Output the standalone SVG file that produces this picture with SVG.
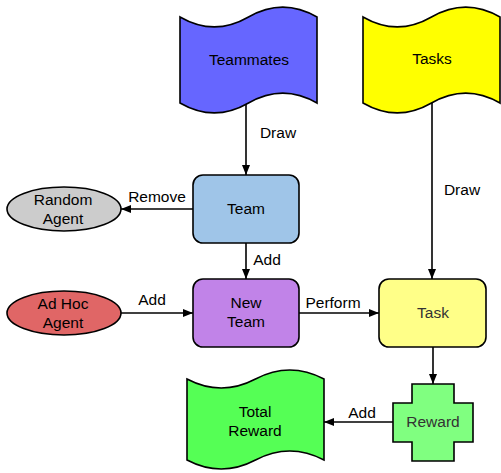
<svg xmlns="http://www.w3.org/2000/svg" width="501" height="473" viewBox="0 0 501 473">
<defs>
<marker id="ah" markerWidth="10" markerHeight="8" refX="10" refY="4" orient="auto" markerUnits="userSpaceOnUse">
<path d="M0,0 L10,4 L0,8 Z" fill="#000"/>
</marker>
<style>
text{font-family:"Liberation Sans",Arial,sans-serif;font-size:15.5px;fill:#000;text-anchor:middle}
.shape{stroke:#000;stroke-width:1.6}
.edge{stroke:#000;stroke-width:1.6;fill:none;marker-end:url(#ah)}
.lbl{text-anchor:start}
</style>
</defs>
<rect width="501" height="473" fill="#fff"/>
<g id="connectors">
<path class="edge" d="M246,103 L246,175"/>
<text x="278" y="138">Draw</text>
<path class="edge" d="M432,103 L432,279"/>
<text x="462" y="195">Draw</text>
<path class="edge" d="M193,209 L121,209"/>
<text x="157" y="202">Remove</text>
<path class="edge" d="M246,243 L246,279"/>
<text x="267" y="265">Add</text>
<path class="edge" d="M121,313 L193,313"/>
<text x="152" y="305">Add</text>
<path class="edge" d="M299,313 L379,313"/>
<text x="333" y="308">Perform</text>
<path class="edge" d="M433,347 L433,384"/>
<path class="edge" d="M393,422 L324,422"/>
<text x="362" y="418">Add</text>
</g>
<g id="teammates">
<path class="shape" fill="#6666ff" d="M180,17 Q214.25,36.8 248.5,17 Q282.75,-2.8 317,17 L317,103 Q282.75,83.2 248.5,103 Q214.25,122.8 180,103 Z"/>
<text x="249" y="65">Teammates</text>
</g>
<g id="tasks">
<path class="shape" fill="#ffff00" d="M363,17 Q397.25,36.8 431.5,17 Q465.75,-2.8 500,17 L500,103 Q465.75,83.2 431.5,103 Q397.25,122.8 363,103 Z"/>
<text x="432" y="64">Tasks</text>
</g>
<g id="team">
<rect class="shape" x="193" y="175" width="106" height="68" rx="10" fill="#9fc5e8"/>
<text x="246" y="214">Team</text>
</g>
<g id="random-agent">
<ellipse class="shape" cx="64" cy="209" rx="57" ry="22" fill="#cccccc"/>
<text x="63" y="205">Random</text>
<text x="63" y="224">Agent</text>
</g>
<g id="new-team">
<rect class="shape" x="193" y="279" width="106" height="68" rx="10" fill="#c183e8"/>
<text x="246" y="308">New</text>
<text x="246" y="327">Team</text>
</g>
<g id="adhoc-agent">
<ellipse class="shape" cx="64" cy="313" rx="57" ry="22" fill="#e06666"/>
<text x="63" y="309">Ad Hoc</text>
<text x="63" y="328">Agent</text>
</g>
<g id="task">
<rect class="shape" x="379" y="279" width="107" height="68" rx="10" fill="#ffff88"/>
<text x="433" y="318" style="fill:#333">Task</text>
</g>
<g id="reward">
<path class="shape" fill="#80ff80" d="M412,384 L454,384 L454,403 L473,403 L473,442 L454,442 L454,461 L412,461 L412,442 L393,442 L393,403 L412,403 Z"/>
<text x="433" y="427" style="fill:#333">Reward</text>
</g>
<g id="total-reward">
<path class="shape" fill="#55ff55" d="M187,379 Q221.25,397 255.5,379 Q289.75,361 324,379 L324,460 Q289.75,442 255.5,460 Q221.25,478 187,460 Z"/>
<text x="255" y="417">Total</text>
<text x="255" y="436">Reward</text>
</g>
</svg>
